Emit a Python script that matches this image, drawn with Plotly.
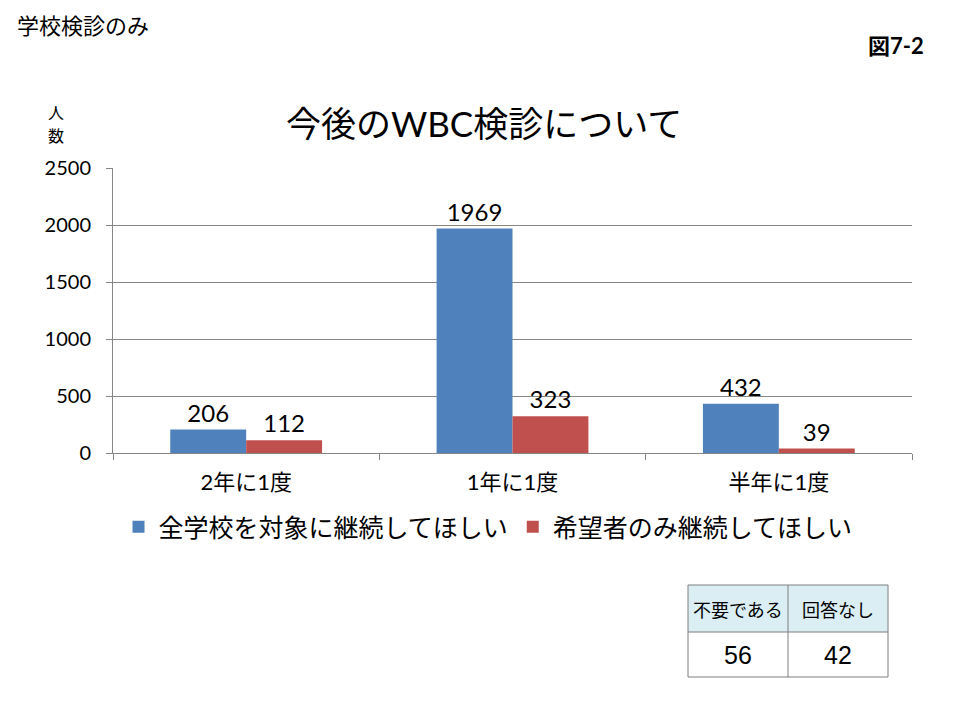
import plotly.graph_objects as go

categories = ["2年に1度", "1年に1度", "半年に1度"]
series_names = ["全学校を対象に継続してほしい", "希望者のみ継続してほしい"]
values_all = [206, 1969, 432]
values_hope = [112, 323, 39]
table_headers = ["不要である", "回答なし"]
table_values = [56, 42]

W, H = 960, 720
OFF = 8  # page body offset
FONT = "Lato, 'Noto Sans CJK JP', sans-serif"
CJK = "'Noto Sans CJK JP', sans-serif"

def px_x(x):
    return (x - OFF) / W

def px_y(y):
    return 1 - (y - OFF) / H

fig = go.Figure()
fig.add_trace(go.Bar(
    x=categories, y=values_all, name=series_names[0],
    marker=dict(color="#4F81BD", line=dict(width=0)),
    text=values_all, textposition="outside", cliponaxis=False,
    textfont=dict(size=24, color="#000000", family=FONT),
))
fig.add_trace(go.Bar(
    x=categories, y=values_hope, name=series_names[1],
    marker=dict(color="#C0504D", line=dict(width=0)),
    text=values_hope, textposition="outside", cliponaxis=False,
    textfont=dict(size=24, color="#000000", family=FONT),
))

# table drawn with shapes + annotations
tx0, tx1, ty0, ty1, tym = 688, 888, 585, 677, 632
ncol = len(table_headers)
colw = (tx1 - tx0) / ncol
shapes = [
    dict(type="rect", xref="paper", yref="paper",
         x0=px_x(tx0), x1=px_x(tx1), y0=px_y(tym), y1=px_y(ty0),
         fillcolor="#DBEEF4", line=dict(width=0), layer="below"),
]
for i in range(ncol + 1):
    xx = tx0 + i * colw
    shapes.append(dict(type="line", xref="paper", yref="paper",
                       x0=px_x(xx), x1=px_x(xx), y0=px_y(ty0), y1=px_y(ty1),
                       line=dict(color="#7F7F7F", width=1)))
for yy in (ty0, tym, ty1):
    shapes.append(dict(type="line", xref="paper", yref="paper",
                       x0=px_x(tx0), x1=px_x(tx1), y0=px_y(yy), y1=px_y(yy),
                       line=dict(color="#7F7F7F", width=1)))

annotations = [
    dict(text="今後のWBC検診について", x=px_x(484), y=px_y(123), xref="paper", yref="paper",
         showarrow=False, font=dict(size=35, family=FONT), xanchor="center", yanchor="middle"),
    dict(text="人", x=px_x(56), y=px_y(112), xref="paper", yref="paper",
         showarrow=False, font=dict(size=16, family=CJK), xanchor="center", yanchor="middle"),
    dict(text="数", x=px_x(56), y=px_y(135), xref="paper", yref="paper",
         showarrow=False, font=dict(size=16, family=CJK), xanchor="center", yanchor="middle"),
    dict(text="学校検診のみ", x=px_x(15), y=px_y(24), xref="paper", yref="paper",
         showarrow=False, font=dict(size=22, family=CJK), xanchor="left", yanchor="middle"),
    dict(text="<b>図7-2</b>", x=px_x(926), y=px_y(45), xref="paper", yref="paper",
         showarrow=False, font=dict(size=22, family=FONT), xanchor="right", yanchor="middle"),
]
for i, (h, v) in enumerate(zip(table_headers, table_values)):
    cx = tx0 + (i + 0.5) * colw
    annotations.append(dict(text=h, x=px_x(cx), y=px_y((ty0 + tym) / 2), xref="paper", yref="paper",
                            showarrow=False, font=dict(size=18, family=CJK),
                            xanchor="center", yanchor="middle"))
    annotations.append(dict(text=str(v), x=px_x(cx), y=px_y((tym + ty1) / 2), xref="paper", yref="paper",
                            showarrow=False, font=dict(size=25, family="Liberation Sans, Arial, sans-serif"),
                            xanchor="center", yanchor="middle"))

fig.update_layout(
    template="none",
    width=W, height=H, autosize=False,
    margin=dict(l=0, r=0, t=0, b=0, pad=0, autoexpand=False),
    paper_bgcolor="#FFFFFF", plot_bgcolor="#FFFFFF",
    font=dict(family=FONT, color="#000000"),
    barmode="group", bargap=0.43, bargroupgap=0,
    showlegend=True,
    legend=dict(orientation="h", x=px_x(488), xanchor="center", y=px_y(527), yanchor="middle",
                font=dict(size=25, family=FONT), traceorder="normal", bgcolor="rgba(0,0,0,0)"),
    xaxis=dict(domain=[px_x(113), px_x(912)], type="category", automargin=False,
               showline=True, linecolor="#868686", linewidth=1,
               ticks="outside", tickson="boundaries", ticklen=6, tickcolor="#868686",
               ticklabelstandoff=10,
               tickfont=dict(size=22, family=FONT), showgrid=False),
    yaxis=dict(domain=[px_y(453), px_y(168)], range=[0, 2500], dtick=500, automargin=False,
               showline=True, linecolor="#868686", linewidth=1,
               ticks="outside", ticklen=6, tickcolor="#868686", ticklabelstandoff=11,
               showgrid=True, gridcolor="#868686", gridwidth=1,
               zeroline=False, tickfont=dict(size=20, family=FONT)),
    shapes=shapes,
    annotations=annotations,
)

fig.write_html("out.html")
